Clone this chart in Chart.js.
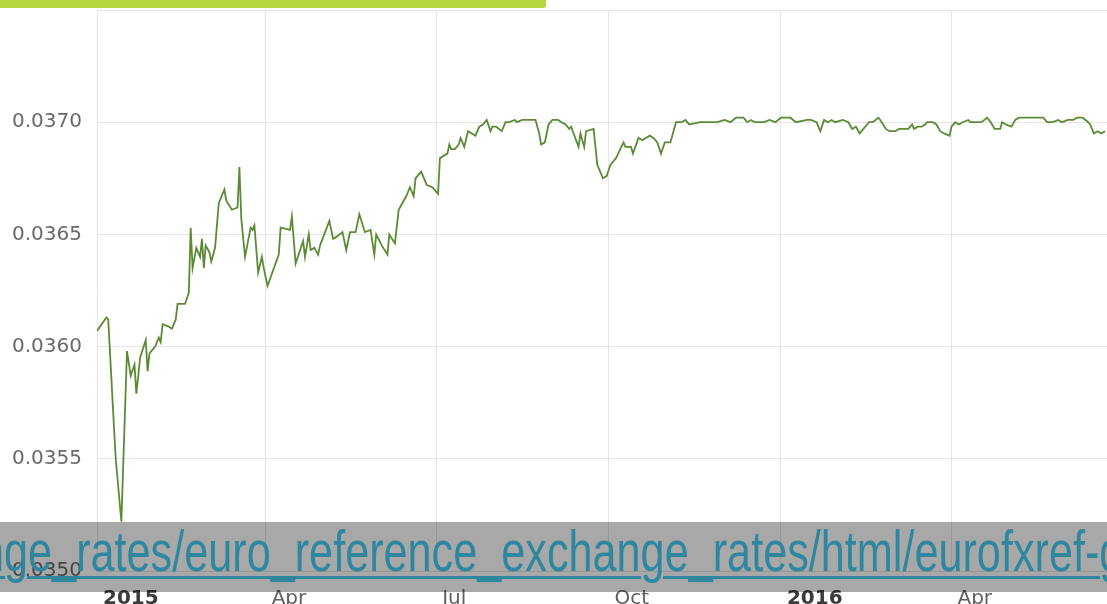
<!DOCTYPE html>
<html>
<head>
<meta charset="utf-8">
<script src="https://cdn.jsdelivr.net/npm/chart.js@4/dist/chart.umd.min.js"></script>
<style>
  html, body { margin: 0; padding: 0; background: #fff; overflow: hidden; }
  #wrap { position: relative; width: 1107px; height: 604px; }
  #grafico { position: absolute; left: 0; top: 0; }
  #barra { position: absolute; left: 0; top: 0; width: 546px; height: 8px; background: #b5d53e; border-bottom-right-radius: 3px; }
  #franja { position: absolute; left: 0; top: 522px; width: 1107px; height: 70px; background: rgba(0,0,0,0.34); overflow: hidden; }
  #enlace { position: absolute; left: -20px; top: 0px; white-space: nowrap; font-family: "Liberation Sans", Arial, sans-serif; font-size: 58px; line-height: 58px; color: #2e879e; text-decoration: underline; text-decoration-thickness: 3px; text-underline-offset: 5px; transform: scaleX(0.745); transform-origin: left top; }
</style>
</head>
<body>
<div id="wrap">
  <canvas id="grafico" width="1107" height="604"></canvas>
  <div id="barra"></div>
  <div id="franja"><span id="enlace">nge_rates/euro_reference_exchange_rates/html/eurofxref-g</span></div>
</div>
<script>
// dias desde el 1 ene 2015
const dayOffsets = [
  0, 5, 6, 9, 10, 13, 16, 18, 20, 21,
  23, 26, 27, 28, 31, 33, 34, 35, 38, 40,
  42, 43, 47, 49, 50, 51, 53, 55, 56, 57,
  58, 60, 61, 63, 65, 68, 69, 72, 75, 76,
  77, 79, 82, 83, 84, 86, 88, 89, 91, 97,
  98, 103, 104, 106, 110, 111, 113, 114, 116, 118,
  119, 124, 126, 128, 131, 133, 135, 138, 140, 143,
  146, 148, 149, 152, 155, 156, 159, 161, 163, 165,
  167, 169, 170, 173, 176, 179, 182, 183, 187, 188,
  189, 191, 193, 194, 196, 198, 202, 204, 206, 208,
  210, 211, 213, 216, 218, 220, 223, 224, 227, 234,
  236, 237, 239, 241, 243, 246, 248, 250, 252, 253,
  257, 258, 260, 261, 265, 267, 270, 272, 274, 277,
  281, 282, 285, 286, 289, 291, 295, 297, 299, 301,
  303, 306, 309, 312, 314, 316, 322, 325, 329, 331,
  335, 338, 341, 345, 347, 349, 351, 356, 359, 362,
  365, 370, 373, 379, 381, 384, 386, 388, 390, 392,
  394, 398, 401, 403, 405, 407, 409, 412, 414, 417,
  418, 421, 423, 426, 428, 433, 435, 436, 438, 440,
  442, 443, 446, 448, 450, 452, 455, 456, 458, 460,
  462, 465, 466, 469, 472, 475, 477, 479, 482, 483,
  485, 488, 490, 492, 505, 507, 510, 513, 515, 518,
  521, 523, 526, 529, 530, 532, 534, 536, 538
];

const rates = [
  0.03607, 0.03613, 0.03612, 0.03565, 0.03550, 0.03522, 0.03598, 0.03587, 0.03592, 0.03579,
  0.03595, 0.03603, 0.03589, 0.03597, 0.03600, 0.03604, 0.03602, 0.03610, 0.03609, 0.03608,
  0.03612, 0.03619, 0.03619, 0.03624, 0.03653, 0.03635, 0.03644, 0.03640, 0.03648, 0.03635,
  0.03645, 0.03642, 0.03638, 0.03644, 0.03664, 0.03670, 0.03665, 0.03661, 0.03662, 0.03680,
  0.03657, 0.03640, 0.03653, 0.03652, 0.03654, 0.03633, 0.03640, 0.03635, 0.03627, 0.03641,
  0.03653, 0.03652, 0.03658, 0.03637, 0.03647, 0.03640, 0.03650, 0.03643, 0.03644, 0.03641,
  0.03645, 0.03656, 0.03648, 0.03649, 0.03651, 0.03643, 0.03651, 0.03651, 0.03659, 0.03651,
  0.03652, 0.03641, 0.03650, 0.03645, 0.03641, 0.03650, 0.03646, 0.03661, 0.03664, 0.03667,
  0.03671, 0.03667, 0.03675, 0.03678, 0.03672, 0.03671, 0.03668, 0.03684, 0.03686, 0.03690,
  0.03688, 0.03688, 0.03690, 0.03693, 0.03689, 0.03696, 0.03694, 0.03698, 0.03699, 0.03701,
  0.03696, 0.03698, 0.03698, 0.03696, 0.03700, 0.03700, 0.03701, 0.03700, 0.03701, 0.03701,
  0.03695, 0.03690, 0.03691, 0.03699, 0.03701, 0.03701, 0.03700, 0.03699, 0.03697, 0.03698,
  0.03689, 0.03695, 0.03689, 0.03696, 0.03697, 0.03681, 0.03675, 0.03676, 0.03681, 0.03684,
  0.03691, 0.03689, 0.03689, 0.03686, 0.03693, 0.03692, 0.03694, 0.03693, 0.03691, 0.03686,
  0.03691, 0.03691, 0.03700, 0.03700, 0.03701, 0.03699, 0.03700, 0.03700, 0.03700, 0.03700,
  0.03701, 0.03700, 0.03702, 0.03702, 0.03700, 0.03701, 0.03700, 0.03700, 0.03701, 0.03700,
  0.03702, 0.03702, 0.03700, 0.03701, 0.03701, 0.03700, 0.03696, 0.03701, 0.03700, 0.03701,
  0.03700, 0.03701, 0.03700, 0.03697, 0.03698, 0.03695, 0.03697, 0.03700, 0.03700, 0.03702,
  0.03701, 0.03697, 0.03696, 0.03696, 0.03697, 0.03697, 0.03699, 0.03697, 0.03698, 0.03698,
  0.03699, 0.03700, 0.03700, 0.03699, 0.03696, 0.03695, 0.03694, 0.03698, 0.03700, 0.03699,
  0.03700, 0.03701, 0.03700, 0.03700, 0.03700, 0.03702, 0.03700, 0.03697, 0.03697, 0.03700,
  0.03699, 0.03698, 0.03701, 0.03702, 0.03702, 0.03700, 0.03700, 0.03701, 0.03700, 0.03701,
  0.03701, 0.03702, 0.03702, 0.03700, 0.03699, 0.03695, 0.03696, 0.03695, 0.03696
];

const tickDays = [0, 90, 181, 273, 365, 456];
const tickLabels = ["2015", "Apr", "Jul", "Oct", "2016", "Apr"];
const yTicks = [0.0350, 0.0355, 0.0360, 0.0365, 0.0370, 0.0375];

const ctx = document.getElementById("grafico").getContext("2d");
const puntos = dayOffsets.map((d, i) => ({ x: d, y: rates[i] }));
const esAnio = (i) => i === 0 || i === 4;

const chart = new Chart(ctx, {
    type: "line",
    data: {
        datasets: [{
            data: puntos,
            borderColor: "#5b8b35",
            borderWidth: 1.8,
            pointRadius: 0,
            tension: 0,
            fill: false
        }]
    },
    options: {
        responsive: false,
        animation: false,
        devicePixelRatio: 1,
        layout: { padding: { top: 10, left: 0, right: 0, bottom: 0 } },
        plugins: { legend: { display: false }, tooltip: { enabled: false } },
        scales: {
            x: {
                type: "linear",
                min: 0,
                max: 539,
                afterBuildTicks: (scale) => { scale.ticks = tickDays.map(v => ({ value: v })); },
                afterFit: (scale) => { scale.height = 33; scale.paddingLeft = 0; scale.paddingRight = 0; },
                grid: { color: "#e6e6e6", drawTicks: false },
                border: { display: false },
                ticks: {
                    padding: 16,
                    align: "start",
                    labelOffset: 6,
                    maxRotation: 0,
                    autoSkip: false,
                    color: (c) => esAnio(c.index) ? "#3c3c3c" : "#606060",
                    font: (c) => ({
                        family: "'DejaVu Sans', sans-serif",
                        size: 20,
                        weight: esAnio(c.index) ? "bold" : "normal"
                    }),
                    callback: (v) => tickLabels[tickDays.indexOf(v)]
                }
            },
            y: {
                min: 0.0350,
                max: 0.0375,
                afterBuildTicks: (scale) => { scale.ticks = yTicks.map(v => ({ value: v })); },
                afterFit: (scale) => { scale.width = 97; scale.paddingTop = 0; scale.paddingBottom = 0; },
                grid: { color: "#e6e6e6", drawTicks: false },
                border: { display: false },
                ticks: {
                    padding: 15,
                    color: "#6a6a6a",
                    font: { family: "'DejaVu Sans', sans-serif", size: 20 },
                    callback: (v) => v > 0.03745 ? "" : v.toFixed(4)
                }
            }
        }
    }
});
</script>
</body>
</html>
